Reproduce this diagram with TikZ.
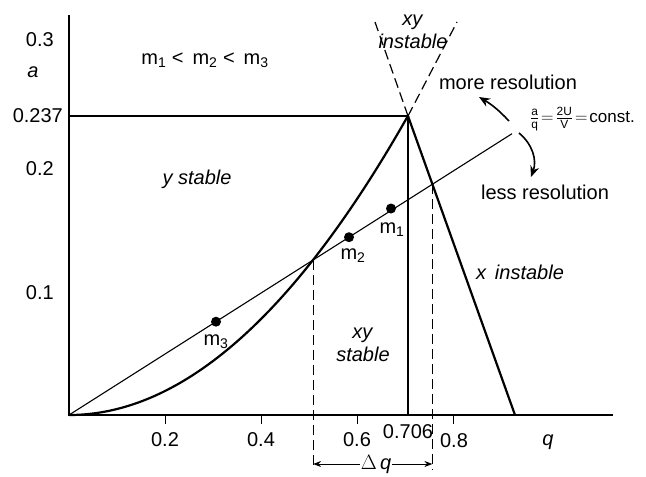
\documentclass[tikz,border=0pt]{standalone}
\usepackage{fontspec}
\setmainfont{Liberation Sans}
\usepackage{amsmath}
\usetikzlibrary{arrows.meta}

\begin{document}
\begin{tikzpicture}[x=1pt, y=-1pt,
  font=\fontsize{20}{23}\selectfont,
  axis/.style={line width=2.4pt},
  bound/.style={line width=2.2pt},
  scan/.style={line width=1.1pt},
  guide/.style={line width=1.2pt, dash pattern=on 10pt off 5pt},
  tick/.style={line width=1pt},
  mass/.style={circle, fill=black, inner sep=0pt, minimum size=10pt},
  lbl/.style={inner sep=1pt},
  arr/.style={-{Stealth[length=11pt, width=9pt]}, line width=1.6pt},
  dqarr/.style={-{Stealth[length=8pt, width=6pt]}, line width=1pt},
]
\useasboundingbox (0,0) rectangle (646,477);

% key points of the stability diagram
\coordinate (O)     at (69,415);
\coordinate (top)   at (69,15);
\coordinate (xend)  at (613,415);
\coordinate (peak)  at (408,116);
\coordinate (foot)  at (408,415);
\coordinate (rfoot) at (515,415);
\coordinate (lcut)  at (313.1,260);
\coordinate (rcut)  at (432.4,184.2);
\coordinate (send)  at (512,133.7);
\coordinate (vl)    at (375,22);
\coordinate (vr)    at (457,22);

% axes
\draw[axis] (top) -- (O) -- (xend);
\foreach \xt in {165,261,357,453}
  \draw[tick] (\xt,415) -- (\xt,424);

% stability boundaries
\draw[bound] (69,116) -- (peak);
\draw[bound] (peak) -- (foot);
\draw[bound] (peak) -- (rfoot);
\draw[bound] plot[domain=0:0.706, samples=60, smooth]
  ({69+480*\x},{415-299*(\x/0.706)^2});

% scan line and masses
\draw[scan] (O) -- (send);
\node[mass] (m1) at (391,208.5) {};
\node[mass] (m2) at (349,237.2) {};
\node[mass] (m3) at (216,321.7) {};
\node[lbl] (m1l) at (392,230) {m\textsubscript{1}};
\node[lbl] (m2l) at (353,256) {m\textsubscript{2}};
\node[lbl] (m3l) at (216,342) {m\textsubscript{3}};

% dashed guides
\draw[guide] (peak) -- (vl);
\draw[guide] (peak) -- (vr);
\draw[guide] (lcut) -- (lcut|-0,470);
\draw[guide] (rcut) -- (rcut|-0,470);

% resolution arrows
\coordinate (mstart) at (509,121);
\coordinate (mtip)   at (479,97);
\coordinate (lstart) at (519,133);
\coordinate (ltip)   at (531,177);
\draw[arr] (mstart) to[bend right=8] (mtip);
\draw[arr] (lstart) to[bend left=35] (ltip);

% y axis labels
\node[lbl, anchor=east] (a03)  at (55,40)  {0.3};
\node[lbl] (alab) at (33,72) {\textit{a}};
\node[lbl, anchor=east] (a237) at (64,116) {0.237};
\node[lbl, anchor=east] (a02)  at (55,169) {0.2};
\node[lbl, anchor=east] (a01)  at (55,293) {0.1};

% x axis labels
\node[lbl] (q02)  at (165,440) {0.2};
\node[lbl] (q04)  at (261,440) {0.4};
\node[lbl] (q06)  at (357,440) {0.6};
\node[lbl] (q0706) at (408,432) {0.706};
\node[lbl] (q08)  at (454,441) {0.8};
\node[lbl] (qlab) at (548,442) {\textit{q}};

% delta q
\node[lbl] (dq) at (376,464) {$\Delta$\,\textit{q}};
\draw[dqarr] (dq.west) -- (lcut|-dq.west);
\draw[dqarr] (dq.east) -- (rcut|-dq.east);

% region labels
\node[lbl] (order) at (205,60)
  {m\textsubscript{1} <\, m\textsubscript{2} <\, m\textsubscript{3}};
\node[lbl] (ystab) at (197,179) {\textit{y stable}};
\node[lbl, align=center] (xyst) at (363,345) {\textit{xy}\\\textit{stable}};
\node[lbl, align=center] (xyin) at (413,32) {\textit{xy}\\\textit{instable}};
\node[lbl] (xin) at (520,272) {\textit{x\, instable}};
\node[lbl] (more) at (508,82) {more resolution};
\node[lbl] (less) at (545,192) {less resolution};
\node[lbl, anchor=west, font=\fontsize{17}{19}\selectfont] (ratio) at (529,119)
  {$\frac{\text{a}}{\text{q}}\!=\!\frac{\text{2U}}{\text{V}}\!=\!\text{const.}$};
\end{tikzpicture}
\end{document}
